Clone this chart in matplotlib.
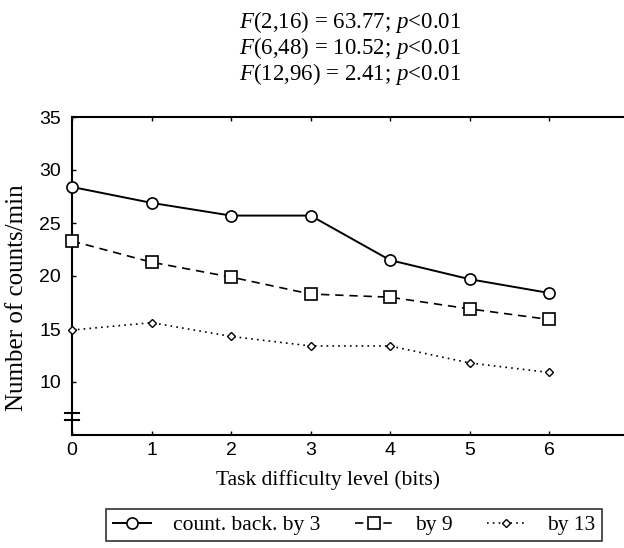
import matplotlib
matplotlib.use("Agg")
import matplotlib.pyplot as plt

# Data
levels = [0, 1, 2, 3, 4, 5, 6]
by3 = [28.4, 26.9, 25.7, 25.7, 21.5, 19.7, 18.4]
by9 = [23.3, 21.3, 19.9, 18.3, 18.0, 16.9, 15.9]
by13 = [14.9, 15.6, 14.3, 13.4, 13.4, 11.8, 10.9]
series_labels = ["count. back. by 3", "by 9", "by 13"]
stats_lines = [
    "$F$(2,16) = 63.77; $p$<0.01",
    "$F$(6,48) = 10.52; $p$<0.01",
    "$F$(12,96) = 2.41; $p$<0.01",
]
y_ticks = [10, 15, 20, 25, 30, 35]

plt.rcParams["mathtext.fontset"] = "custom"
plt.rcParams["mathtext.rm"] = "Liberation Serif"
plt.rcParams["mathtext.it"] = "Liberation Serif:italic"
serif = "Liberation Serif"
sans = "Liberation Sans"

fig = plt.figure(figsize=(6.24, 5.48), dpi=100)
ax = fig.add_axes([72 / 624, 1 - 435 / 548, (624 - 72) / 624, (435 - 117) / 548])

ax.plot(levels, by3, color="black", ls="-", marker="o", ms=8, mfc="white",
        mec="black", mew=1.2, lw=1.4, clip_on=False, zorder=3, label=series_labels[0])
ax.plot(levels, by9, color="black", ls=(0, (5, 3.5)), marker="s", ms=8, mfc="white",
        mec="black", mew=1.2, lw=1.2, clip_on=False, zorder=3, label=series_labels[1])
ax.plot(levels, by13, color="black", ls=(0, (1, 2.5)), marker="D", ms=4.5, mfc="white",
        mec="black", mew=1.0, lw=1.2, clip_on=False, zorder=3, label=series_labels[2])

ax.set_xlim(0, 552 / 79.5)
ax.set_ylim(5, 35)
ax.set_xticks(levels)
ax.set_yticks(y_ticks)
ax.tick_params(direction="in", length=3, width=1, labelsize=14, pad=8)
ax.tick_params(axis="x", top=True, pad=5)
for lab in ax.get_xticklabels() + ax.get_yticklabels():
    lab.set_fontfamily(sans)
ax.spines["right"].set_visible(False)
for s in ["left", "bottom", "top"]:
    ax.spines[s].set_linewidth(1.5)

# axis break mark on the y axis
for yb in [7.1, 6.4]:
    ax.plot([-0.09, 0.09], [yb, yb], color="black", lw=1.5, clip_on=False)

ax.set_xlabel("Task difficulty level (bits)", fontfamily=serif, fontsize=15.5)
ax.xaxis.set_label_coords((328 - 72) / 552, -(470 - 435) / 318)
ax.set_ylabel("Number of counts/min", fontfamily=serif, fontsize=18)
ax.yaxis.set_label_coords(-44 / 552, (435 - 298) / 318)

for i, line in enumerate(stats_lines):
    fig.text(350 / 624, 1 - (22 + 26 * i) / 548, line, fontfamily=serif,
             fontsize=16.5, ha="center", va="center")

leg = ax.legend(loc="center", bbox_to_anchor=((354 - 72) / 552, (435 - 525) / 318),
                ncol=3, frameon=True, fancybox=False, edgecolor="black",
                prop={"family": serif, "size": 15.5}, handlelength=1.8,
                handletextpad=1.0, columnspacing=1.6, borderpad=0.3)
leg.get_frame().set_linewidth(1.2)

fig.savefig("out.png", dpi=100)
